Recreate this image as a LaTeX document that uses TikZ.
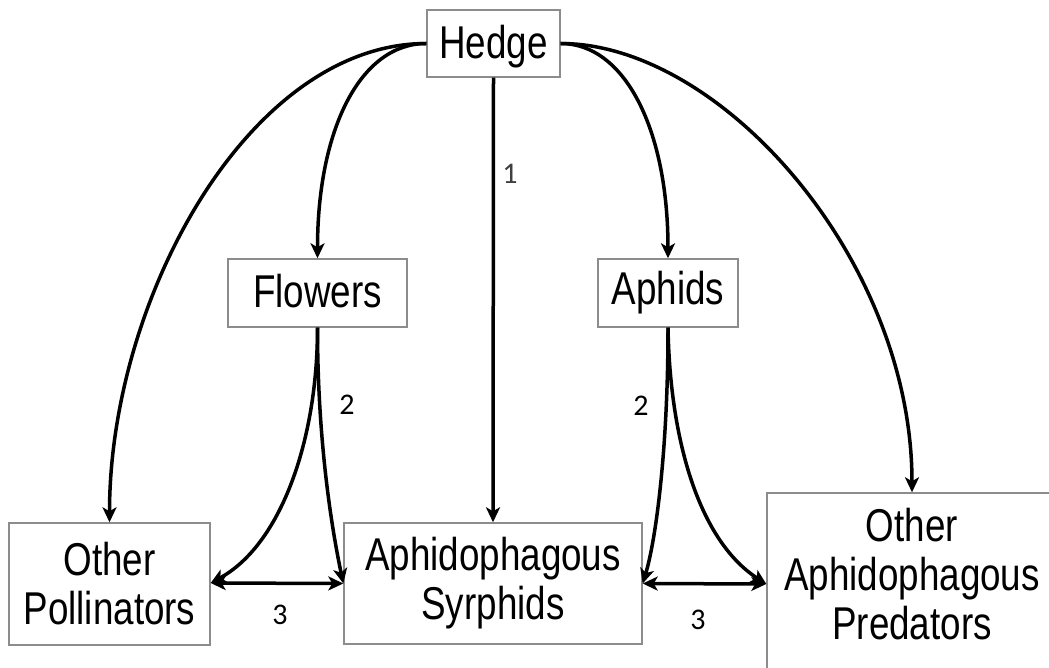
\documentclass[tikz,border=0pt]{standalone}
\usepackage{fontspec}
\usetikzlibrary{arrows.meta}
\newfontfamily\boxfont{Liberation Sans}[FakeStretch=0.8]
\newfontfamily\numfont{Carlito}
\tikzset{
  box/.style={draw=black!45, line width=1.4pt, fill=white, inner sep=0pt,
    align=center, font=\boxfont\fontsize{46}{49}\selectfont},
  onebox/.style={box, text height=30pt, text depth=0pt},
  tip/.tip={Stealth[length=15pt,width=14pt,inset=4pt]},
  link/.style={line width=3.5pt, -tip},
  twoway/.style={line width=3.5pt, tip-tip},
  num/.style={font=\numfont\fontsize{30}{32}\selectfont, inner sep=0pt}
}
\begin{document}
\begin{tikzpicture}[x=1pt,y=-1pt]
\useasboundingbox (0,0) rectangle (1049,668);

% boxes
\node[onebox, minimum width=133pt, minimum height=67pt] (hedge) at (493.5,43.5) {Hedge};
\node[onebox, minimum width=179pt, minimum height=68pt] (flowers) at (317.5,293) {Flowers};
\node[onebox, minimum width=140pt, minimum height=68pt] (aphids) at (668,293) {\raisebox{3pt}{Aphids}};
\node[box, minimum width=201pt, minimum height=122pt] (pollin) at (109.5,584) {Other\\Pollinators};
\node[box, minimum width=298pt, minimum height=121pt] (syrph) at (493,583.5) {Aphidophagous\\Syrphids};
\node[box, minimum width=290pt, minimum height=182pt, text depth=20pt] (pred) at (912,584) {Other\\Aphidophagous\\Predators};

% links from the hedge
\draw[link] (hedge.west) .. controls +(-66,0) and +(0,-129) .. (flowers.north);
\draw[link] (hedge.west) .. controls +(-177,0) and +(0,-224) .. (pollin.north);
\draw[link] (hedge.east) .. controls +(64,0) and +(0,-129) .. (aphids.north);
\draw[link] (hedge.east) .. controls +(160,0) and +(0,-233) .. (pred.north);
\draw[link] (hedge.south) -- (syrph.north);

% links from flowers and aphids
\draw[link] (flowers.south) .. controls +(0,113) and +(70,-38) .. ([yshift=1pt]pollin.east);
\draw[link] (flowers.south) .. controls +(0,123) and +(-9,-43) .. (syrph.west);
\draw[link] (aphids.south) .. controls +(0,123) and +(13,-43) .. (syrph.east);
\draw[link] (aphids.south) .. controls +(2,113) and +(-67,-43) .. (pred.west);

% competition between the guilds
\draw[twoway] ([yshift=1pt]pollin.east) -- (syrph.west);
\draw[twoway] (syrph.east) -- (pred.west);

% numbered links
\node[num, text=black!75] (n1) at (510,174) {1};
\node[num] (n2a) at (347,405) {2};
\node[num] (n2b) at (641,406) {2};
\node[num] (n3a) at (280,615) {3};
\node[num] (n3b) at (698,620) {3};
\end{tikzpicture}
\end{document}
